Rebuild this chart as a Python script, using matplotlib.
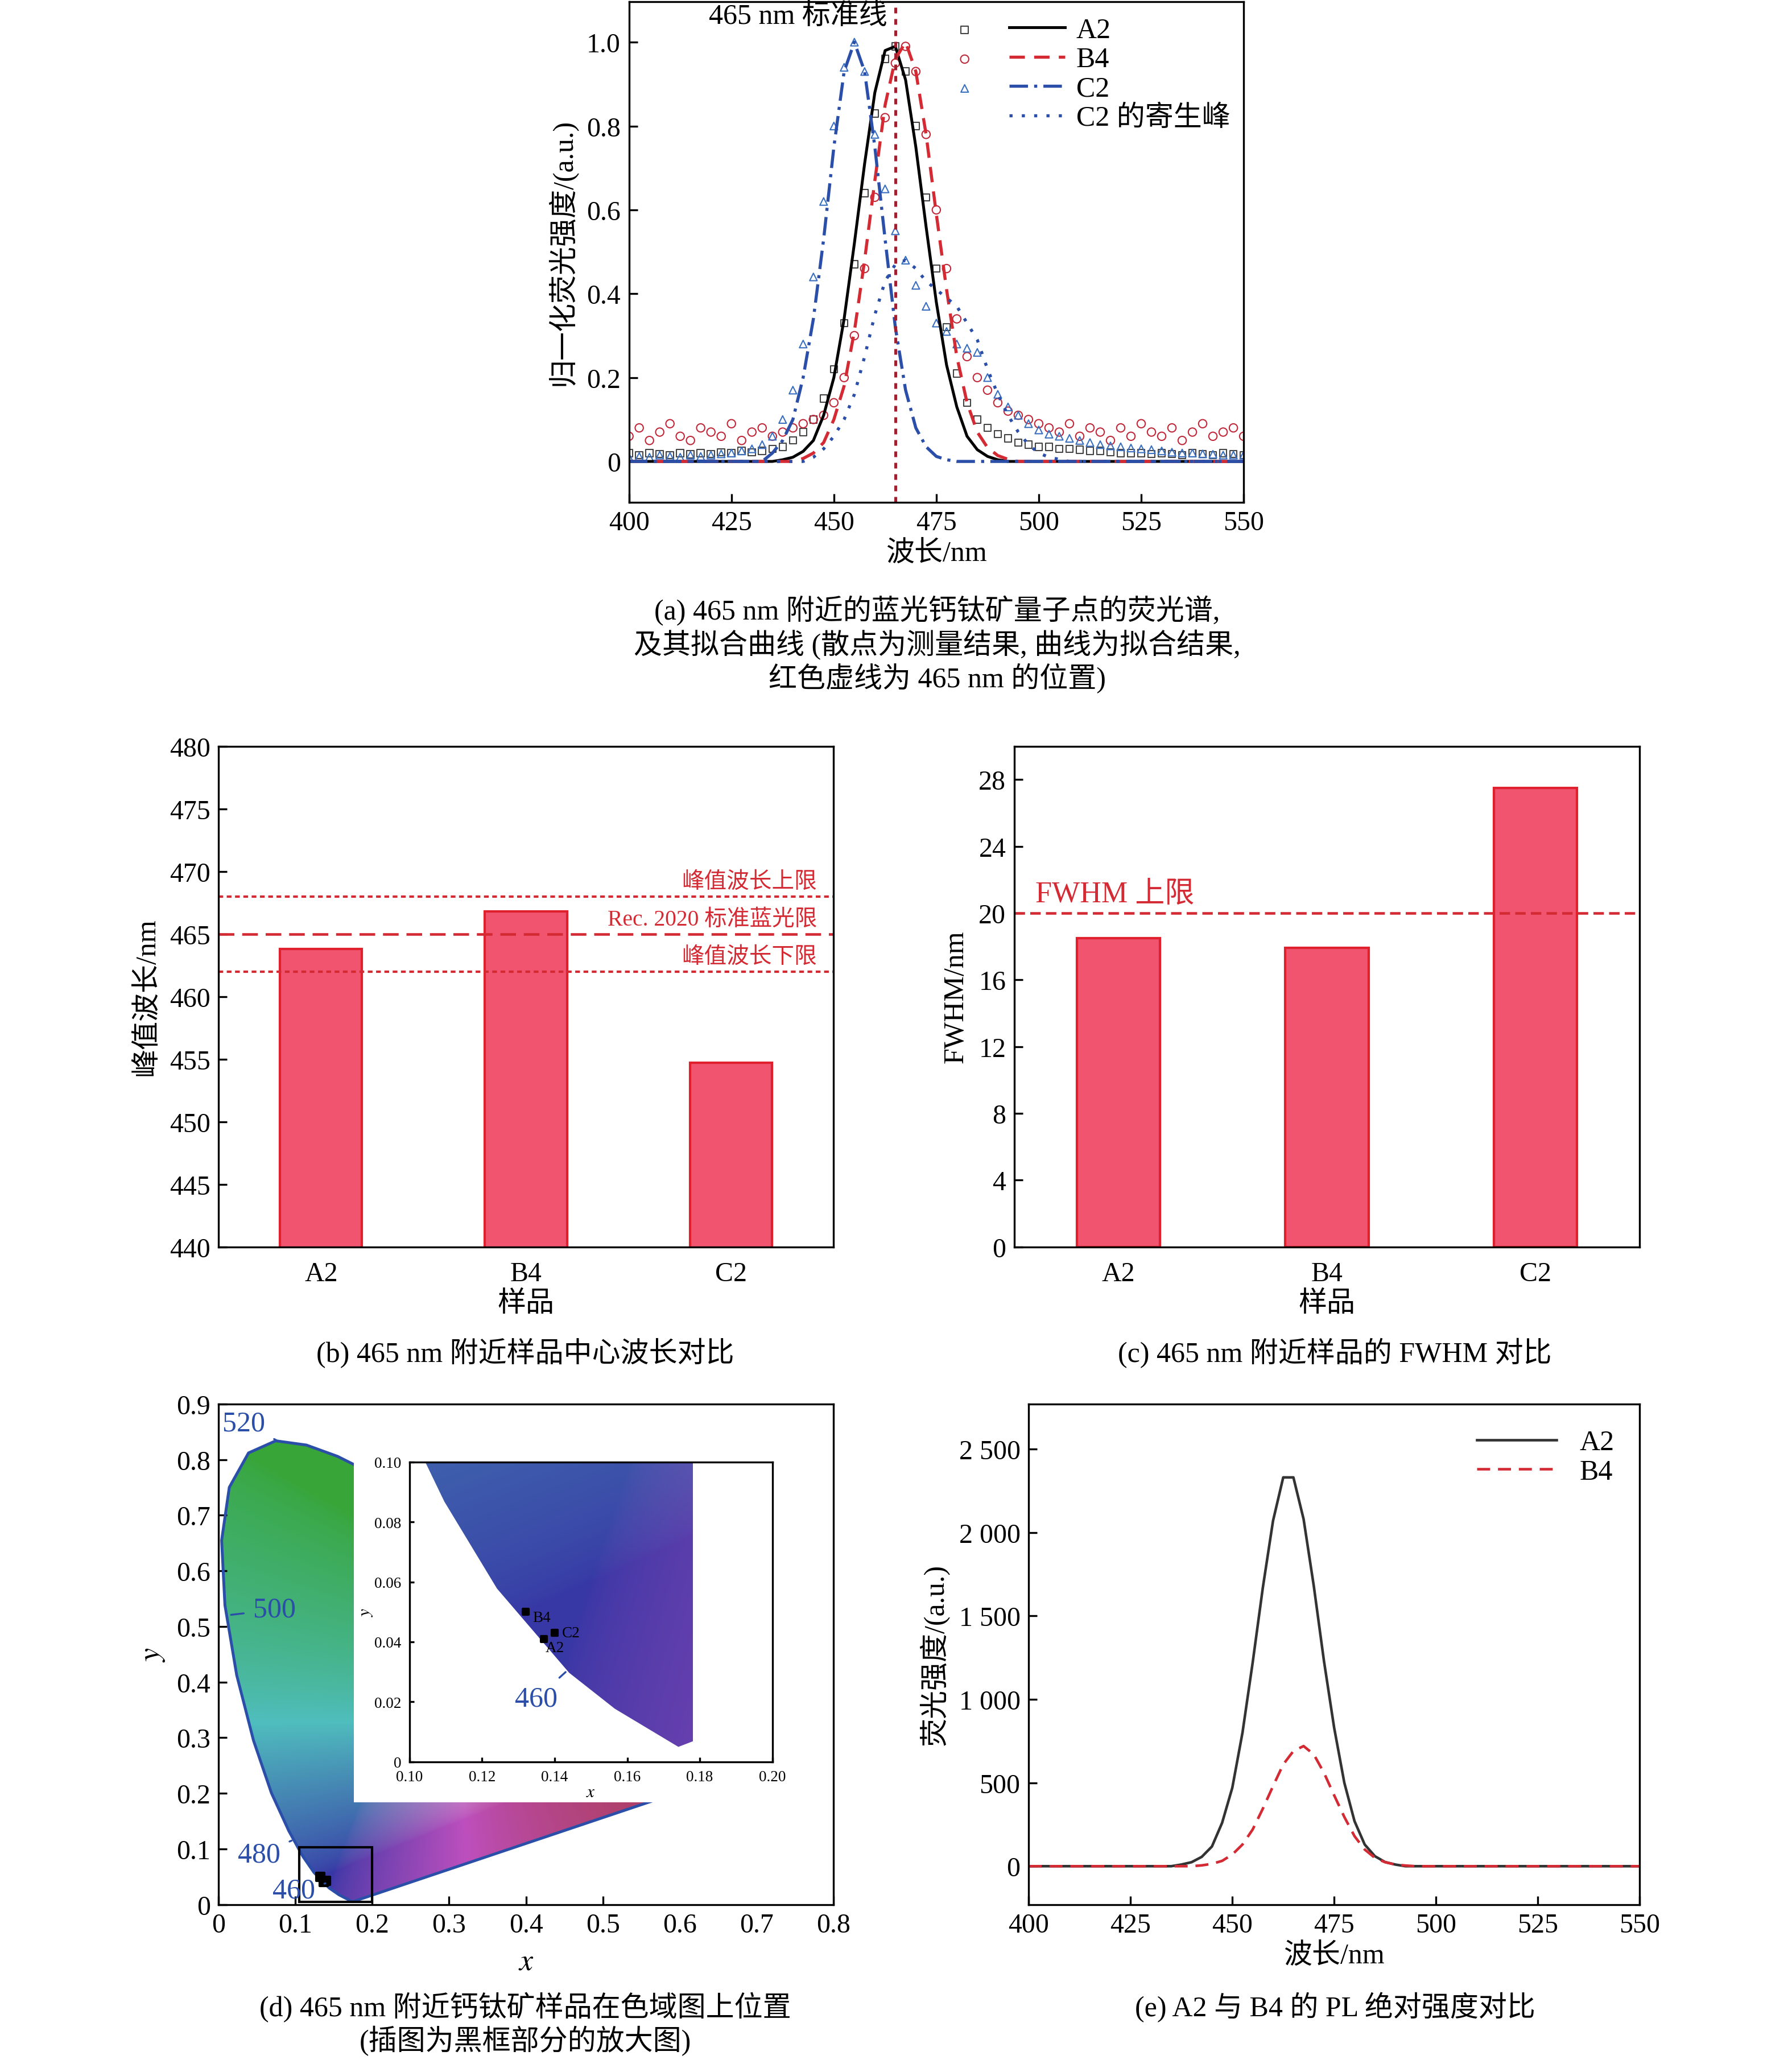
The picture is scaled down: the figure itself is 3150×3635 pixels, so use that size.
import numpy as np
import matplotlib.pyplot as plt
from matplotlib.path import Path
from matplotlib.patches import PathPatch, Rectangle
from matplotlib.legend_handler import HandlerTuple

plt.rcParams['font.family'] = ['Liberation Serif', 'Noto Sans CJK SC']
plt.rcParams['font.size'] = 11.5
plt.rcParams['xtick.direction'] = 'in'
plt.rcParams['ytick.direction'] = 'in'
plt.rcParams['mathtext.fontset'] = 'stix'

# ---- data (a)
wl = np.arange(400, 550.1, 2.5)
a2_fit = [0]*15 + [.004, .01, .024, .05, .11, .2, .34, .52, .71, .88, .98, .99, .91, .75, .56, .38, .23, .13, .06, .028, .012, .004] + [0]*24
b4_fit = [0]*17 + [.007, .02, .045, .1, .18, .31, .48, .67, .85, .96, 1.0, .93, .78, .59, .41, .25, .14, .07, .033, .014, .005] + [0]*23
c2_fit = [0]*14 + [.02, .05, .1, .2, .34, .53, .75, .93, 1.0, .93, .75, .53, .32, .17, .08, .035, .012, .004] + [0]*29
c2_para = [0]*18 + [.01, .03, .06, .1, .16, .25, .35, .43, .47, .48, .46, .43, .41, .39, .37, .33, .29, .22, .16, .11, .07, .04, .02, .01, .005] + [0]*18
a2_meas = [.02, .015, .02, .018, .015, .02, .017, .02, .018, .022, .02, .025, .022, .025, .03,
           .035, .05, .07, .1, .15, .22, .33, .47, .64, .83, .96, .99, .93, .8, .63, .46, .32, .21, .14, .1, .08, .065, .055, .045,
           .04, .035, .035, .03, .03, .028, .025, .025, .022, .02, .02, .02, .018, .02, .018, .015, .02, .018, .015, .02, .018, .015]
b4_meas = [.06, .08, .05, .07, .09, .06, .05, .08, .07, .06, .09, .05, .07, .08, .06, .07,
           .08, .09, .1, .11, .14, .2, .3, .46, .63, .82, .95, .99, .93, .78, .6, .46, .34, .25, .2, .17, .14, .12, .11,
           .1, .09, .08, .07, .09, .06, .08, .07, .05, .08, .06, .09, .07, .06, .08, .05, .07, .09, .06, .07, .08, .06]
c2_meas = [.01, .012, .01, .015, .012, .01, .015, .012, .015, .018, .02, .025,
           .03, .04, .06, .1, .17, .28, .44, .62, .8, .94, 1.0, .93, .78, .65, .55, .48, .42, .37, .33, .31, .28, .27, .26, .2, .16, .13, .11, .09, .075, .065, .06,
           .055, .05, .045, .04, .037, .035, .032, .03, .028, .025, .022, .02, .02, .018, .017, .015, .015, .015]

# ---- data (b), (c)
samples = ['A2', 'B4', 'C2']
peak_wl = [463.8, 466.8, 454.7]
fwhm = [18.5, 17.9, 27.5]

# ---- data (d): CIE 1931 spectral locus
locus_x = [0.1741, 0.1566, 0.1440, 0.1241, 0.1096, 0.0913, 0.0687, 0.0454, 0.0235, 0.0082, 0.0039, 0.0139,
           0.0389, 0.0743, 0.1142, 0.1547, 0.2296, 0.3016, 0.3731, 0.4441, 0.5125, 0.5752, 0.6270, 0.6915, 0.7190, 0.7347]
locus_y = [0.0050, 0.0177, 0.0297, 0.0578, 0.0868, 0.1327, 0.2007, 0.2950, 0.4127, 0.5384, 0.6548, 0.7502,
           0.8120, 0.8338, 0.8262, 0.8059, 0.7543, 0.6923, 0.6245, 0.5547, 0.4866, 0.4242, 0.3725, 0.3083, 0.2809, 0.2653]
pt_names = ['B4', 'A2', 'C2']
pt_x = [0.132, 0.137, 0.140]
pt_y = [0.050, 0.041, 0.043]

# ---- data (e)
a2_abs = [0]*15 + [10, 24, 56, 118, 260, 470, 800, 1220, 1670, 2070, 2330, 2330, 2080, 1680, 1230, 830, 500, 270, 130, 60, 25, 10] + [0]*24
b4_abs = [0]*17 + [5, 14, 32, 70, 130, 220, 345, 480, 610, 690, 720, 670, 560, 425, 295, 180, 100, 50, 24, 10, 4] + [0]*23

red = '#d42a34'
blue = '#2b4fa8'
bar_fc = '#f0546e'
bar_ec = '#e0202c'

fig = plt.figure(figsize=(10.5, 12.12), dpi=300)

# ---------------- (a)
ax = fig.add_axes([0.351, 0.757, 0.343, 0.242])
ax.scatter(wl, a2_meas, marker='s', s=9, facecolors='none', edgecolors='#444444', linewidths=0.5)
ax.scatter(wl, b4_meas, marker='o', s=12, facecolors='none', edgecolors='#c0283a', linewidths=0.5)
ax.scatter(wl, c2_meas, marker='^', s=10, facecolors='none', edgecolors='#3a6fc0', linewidths=0.5)
la, = ax.plot(wl, a2_fit, color='black', lw=1.2)
lb, = ax.plot(wl, b4_fit, color=red, lw=1.3, ls=(0, (5, 3)))
lc, = ax.plot(wl, c2_fit, color=blue, lw=1.3, ls=(0, (6, 2, 1, 2)))
lp, = ax.plot(wl, c2_para, color=blue, lw=1.3, ls=(0, (1, 3)))
ax.axvline(465, color='#a02030', lw=1.2, ls=(0, (2, 2)))
ax.text(463, 1.06, '465 nm 标准线', ha='right', va='center', fontsize=12)
ma = ax.scatter([], [], marker='s', s=9, facecolors='none', edgecolors='#444444', linewidths=0.5)
mb = ax.scatter([], [], marker='o', s=12, facecolors='none', edgecolors='#c0283a', linewidths=0.5)
mc = ax.scatter([], [], marker='^', s=10, facecolors='none', edgecolors='#3a6fc0', linewidths=0.5)
mp = ax.scatter([], [], marker='s', s=0, facecolors='none', edgecolors='none')
ax.legend([(ma, la), (mb, lb), (mc, lc), (mp, lp)], ['A2', 'B4', 'C2', 'C2 的寄生峰'],
          handler_map={tuple: HandlerTuple(ndivide=None, pad=0.6)}, handlelength=4.5,
          frameon=False, loc='upper right', bbox_to_anchor=(1.02, 1.02), labelspacing=0.1,
          handletextpad=0.4, fontsize=12)
ax.set_xlim(400, 550)
ax.set_ylim(-0.097, 1.097)
ax.set_xticks([400, 425, 450, 475, 500, 525, 550])
ax.set_yticks([0, 0.2, 0.4, 0.6, 0.8, 1.0])
ax.set_yticklabels(['0', '0.2', '0.4', '0.6', '0.8', '1.0'])
ax.set_xlabel('波长/nm', fontsize=12, labelpad=2)
ax.set_ylabel('归一化荧光强度/(a.u.)', fontsize=12)
fig.text(0.523, 0.712, '(a) 465 nm 附近的蓝光钙钛矿量子点的荧光谱,\n及其拟合曲线 (散点为测量结果, 曲线为拟合结果,\n红色虚线为 465 nm 的位置)',
         ha='center', va='top', fontsize=12, linespacing=1.15)

# ---------------- (b)
ax = fig.add_axes([0.122, 0.397, 0.343, 0.242])
xpos = np.arange(len(samples))
ax.bar(xpos, peak_wl, width=0.4, color=bar_fc, edgecolor=bar_ec, lw=1)
ax.axhline(468, color=red, lw=1, ls=(0, (2, 1.5)))
ax.axhline(465, color=red, lw=1.1, ls=(0, (6, 3)))
ax.axhline(462, color=red, lw=1, ls=(0, (2, 1.5)))
ax.text(2.42, 468.3, '峰值波长上限', color=red, ha='right', va='bottom', fontsize=9.5)
ax.text(2.42, 465.3, 'Rec. 2020 标准蓝光限', color=red, ha='right', va='bottom', fontsize=9.5)
ax.text(2.42, 462.3, '峰值波长下限', color=red, ha='right', va='bottom', fontsize=9.5)
ax.set_xlim(-0.5, 2.5)
ax.set_ylim(440, 480)
ax.set_yticks(range(440, 481, 5))
ax.set_xticks(xpos)
ax.set_xticklabels(samples)
ax.tick_params(axis='x', length=0, pad=6)
ax.set_xlabel('样品', fontsize=12, labelpad=2)
ax.set_ylabel('峰值波长/nm', fontsize=12)
fig.text(0.293, 0.353, '(b) 465 nm 附近样品中心波长对比', ha='center', va='top', fontsize=12)

# ---------------- (c)
ax = fig.add_axes([0.566, 0.397, 0.349, 0.242])
ax.bar(xpos, fwhm, width=0.4, color=bar_fc, edgecolor=bar_ec, lw=1)
ax.axhline(20, color=red, lw=1.1, ls=(0, (4, 2)))
ax.text(-0.4, 20.3, 'FWHM 上限', color=red, ha='left', va='bottom', fontsize=12.5)
ax.set_xlim(-0.5, 2.5)
ax.set_ylim(0, 30)
ax.set_yticks(range(0, 29, 4))
ax.set_xticks(xpos)
ax.set_xticklabels(samples)
ax.tick_params(axis='x', length=0, pad=6)
ax.set_xlabel('样品', fontsize=12, labelpad=2)
ax.set_ylabel('FWHM/nm', fontsize=12)
fig.text(0.745, 0.353, '(c) 465 nm 附近样品的 FWHM 对比', ha='center', va='top', fontsize=12)


def chroma_image(x0, x1, y0, y1, n=400):
    gx, gy = np.meshgrid(np.linspace(x0, x1, n), np.linspace(y0, y1, n))
    gy = np.clip(gy, 1e-3, None)
    X = gx / gy
    Z = (1 - gx - gy) / gy
    r = 3.2406 * X - 1.5372 - 0.4986 * Z
    g = -0.9689 * X + 1.8758 + 0.0415 * Z
    b = 0.0557 * X - 0.2040 + 1.0570 * Z
    rgb = np.stack([r, g, b], -1)
    rgb = np.clip(rgb, 0, None)
    rgb = rgb / rgb.max(axis=-1, keepdims=True)
    rgb = rgb ** (1 / 1.6)
    grey = rgb.mean(axis=-1, keepdims=True)
    rgb = 0.6 * rgb + 0.4 * grey
    rgb = 0.12 + 0.72 * rgb
    return np.clip(rgb, 0, 1)


verts = list(zip(locus_x, locus_y)) + [(locus_x[0], locus_y[0])]
# ---------------- (d)
ax = fig.add_axes([0.122, 0.079, 0.343, 0.242])
img = ax.imshow(chroma_image(0, 0.8, 0, 0.9), extent=[0, 0.8, 0, 0.9], origin='lower', aspect='auto', zorder=1)
patch = PathPatch(Path(verts), facecolor='none', edgecolor=blue, lw=1.2, zorder=2)
ax.add_patch(patch)
img.set_clip_path(patch)
ax.add_patch(Rectangle((0.176, 0.184), 0.63, 0.8, facecolor='white', edgecolor='none', zorder=3))
ax.add_patch(Rectangle((0.568, 0.0), 0.25, 0.2, facecolor='white', edgecolor='none', zorder=3))
ax.add_patch(Rectangle((0.105, 0.005), 0.095, 0.098, facecolor='none', edgecolor='black', lw=1, zorder=4))
ax.scatter(pt_x, pt_y, marker='s', s=10, color='black', zorder=5)
for lbl, tx, ty, px, py in [('520', 0.005, 0.865, 0.075, 0.835), ('500', 0.045, 0.53, 0.01, 0.52),
                            ('480', 0.025, 0.09, 0.095, 0.115), ('460', 0.07, 0.025, 0.145, 0.04)]:
    ax.annotate(lbl, (px, py), (tx, ty), color=blue, fontsize=12, va='center', zorder=6,
                arrowprops=dict(arrowstyle='-', color=blue, lw=0.8))
for sp in ax.spines.values():
    sp.set_zorder(8)
ax.set_xlim(0, 0.8)
ax.set_ylim(0, 0.9)
ax.set_xticks(np.arange(0, 0.81, 0.1))
ax.set_xticklabels(['0', '0.1', '0.2', '0.3', '0.4', '0.5', '0.6', '0.7', '0.8'])
ax.set_yticks(np.arange(0, 0.91, 0.1))
ax.set_yticklabels(['0', '0.1', '0.2', '0.3', '0.4', '0.5', '0.6', '0.7', '0.8', '0.9'])
ax.set_xlabel('$x$', fontsize=13)
ax.set_ylabel('$y$', fontsize=13)

ins = fig.add_axes([0.2285, 0.148, 0.2025, 0.145], zorder=7)
iimg = ins.imshow(chroma_image(0.1, 0.178, 0, 0.1), extent=[0.1, 0.178, 0, 0.1], origin='lower', aspect='auto')
ipatch = PathPatch(Path(verts), facecolor='none', edgecolor='none', transform=ins.transData)
ins.add_patch(ipatch)
iimg.set_clip_path(ipatch)
ins.scatter(pt_x, pt_y, marker='s', s=6, color='black', zorder=5)
for nm, px, py, dx, dy in zip(pt_names, pt_x, pt_y, [0.002, 0.0005, 0.002], [-0.002, -0.003, 0.0]):
    ins.text(px + dx, py + dy, nm, fontsize=6.5, va='center')
ins.annotate('460', (0.144, 0.031), (0.129, 0.021), color=blue, fontsize=12, va='center',
             arrowprops=dict(arrowstyle='-', color=blue, lw=0.8))
ins.set_xlim(0.1, 0.2)
ins.set_ylim(0, 0.1)
ins.set_xticks(np.arange(0.1, 0.201, 0.02))
ins.set_xticklabels(['0.10', '0.12', '0.14', '0.16', '0.18', '0.20'])
ins.set_yticks(np.arange(0, 0.101, 0.02))
ins.set_yticklabels(['0', '0.02', '0.04', '0.06', '0.08', '0.10'])
ins.tick_params(labelsize=6.5, length=2)
ins.set_xlabel('$x$', fontsize=7.5, labelpad=0)
ins.set_ylabel('$y$', fontsize=7.5, labelpad=0)
fig.text(0.293, 0.037, '(d) 465 nm 附近钙钛矿样品在色域图上位置\n(插图为黑框部分的放大图)', ha='center', va='top',
         fontsize=12, linespacing=1.15)

# ---------------- (e)
ax = fig.add_axes([0.574, 0.079, 0.341, 0.242])
ax.plot(wl, a2_abs, color='#333333', lw=1.1, label='A2')
ax.plot(wl, b4_abs, color=red, lw=1.1, ls=(0, (5, 3)), label='B4')
ax.legend(frameon=False, loc='upper right', handlelength=2.8, labelspacing=0.1, fontsize=12)
ax.set_xlim(400, 550)
ax.set_ylim(-230, 2770)
ax.set_xticks([400, 425, 450, 475, 500, 525, 550])
ax.set_yticks([0, 500, 1000, 1500, 2000, 2500])
ax.set_yticklabels(['0', '500', '1 000', '1 500', '2 000', '2 500'])
ax.set_xlabel('波长/nm', fontsize=12, labelpad=2)
ax.set_ylabel('荧光强度/(a.u.)', fontsize=12)
fig.text(0.745, 0.037, '(e) A2 与 B4 的 PL 绝对强度对比', ha='center', va='top', fontsize=12)

fig.savefig('out.png', dpi=300)
